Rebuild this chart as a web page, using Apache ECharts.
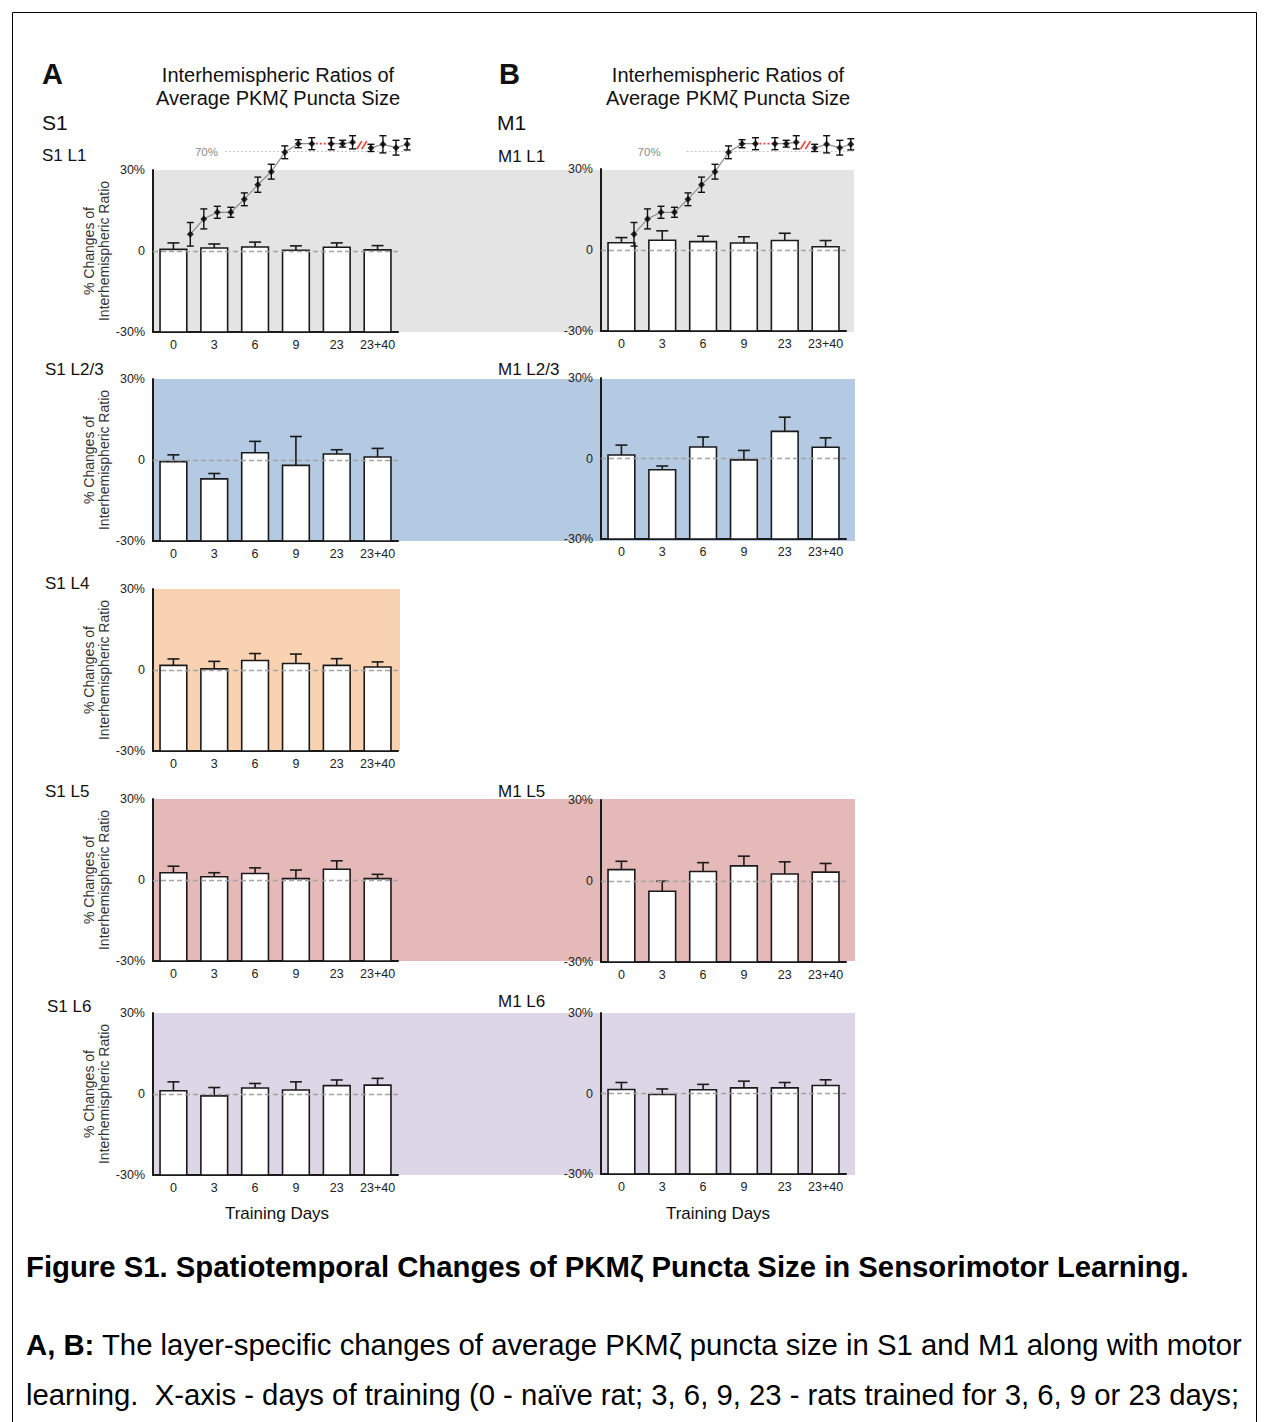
<!DOCTYPE html>
<html>
<head>
<meta charset="utf-8">
<title>PKMζ puncta size – interhemispheric ratios</title>
<script src="https://cdn.jsdelivr.net/npm/echarts@6/dist/echarts.min.js"></script>
<style>
  html, body { margin: 0; padding: 0; background: #fff; }
  #fig { width: 1269px; height: 1422px; }
</style>
</head>
<body>
<div id="fig"></div>
<script>
// ---- data -------------------------------------------------------------
const days = ['0', '3', '6', '9', '23', '23+40'];
const yTicks = [-30, 0, 30];

// mean % change of interhemispheric ratio and SEM, per cortical layer
const s1L1Mean  = [0.6, 1.1, 1.5, 0.3, 1.4, 0.4];
const s1L1Err   = [2.4, 1.5, 1.8, 1.6, 1.6, 1.6];
const s1L23Mean = [-0.6, -7.0, 2.7, -2.0, 2.2, 1.1];
const s1L23Err  = [2.5, 2.0, 4.2, 10.7, 1.6, 3.2];
const s1L4Mean  = [1.7, 0.4, 3.5, 2.4, 1.7, 1.1];
const s1L4Err   = [2.4, 2.8, 2.6, 3.5, 2.5, 1.9];
const s1L5Mean  = [2.7, 1.2, 2.4, 0.5, 4.0, 0.5];
const s1L5Err   = [2.4, 1.5, 2.1, 3.2, 3.1, 1.6];
const s1L6Mean  = [1.2, -0.7, 2.2, 1.5, 3.1, 3.3];
const s1L6Err   = [3.3, 3.1, 1.7, 3.0, 2.1, 2.5];

const m1L1Mean  = [2.7, 3.6, 3.1, 2.6, 3.5, 1.2];
const m1L1Err   = [1.9, 3.5, 2.0, 2.3, 2.7, 2.3];
const m1L23Mean = [1.3, -4.2, 4.3, -0.5, 10.1, 4.2];
const m1L23Err  = [3.7, 1.4, 3.7, 3.5, 5.3, 3.5];
const m1L5Mean  = [4.2, -3.8, 3.5, 5.6, 2.6, 3.3];
const m1L5Err   = [3.1, 3.7, 3.3, 3.6, 4.5, 3.2];
const m1L6Mean  = [1.5, -0.4, 1.4, 2.1, 2.1, 3.0];
const m1L6Err   = [2.6, 2.1, 2.0, 2.5, 2.0, 2.1];

// learning curve (success rate, %) shown above the L1 panels
const curveSession = [1, 2, 3, 4, 5, 6, 7, 8, 9, 10, 11.44, 12.28, 13.02, 14.38, 15.27, 16.24, 17.06];
const curveSuccess = [28.7, 36.4, 39.7, 39.7, 46.2, 53.5, 60.0, 69.7, 74.0, 74.0, 74.0, 74.0, 74.7, 71.9, 73.7, 72.0, 73.7];
const curveErr     = [5.9, 5.0, 3.0, 2.5, 3.2, 3.8, 3.7, 3.2, 2.0, 3.0, 3.0, 1.7, 3.3, 1.8, 4.3, 3.7, 2.8];
const curveSegment = [1, 1, 1, 1, 1, 1, 1, 1, 1, 1, 2, 2, 2, 3, 3, 3, 3];
const criterion = 70;

// ---- layout & style ---------------------------------------------------
const FONT = '"Liberation Sans", Arial, Helvetica, sans-serif';
const INK = '#1a1a1a';
const COL_LEFT = [153, 601];
const PLOT_W = 245;

const panels = [
  { label: 'S1 L1',   mean: s1L1Mean,  err: s1L1Err,  col: 0, top: 170, height: 162, lx: 42,  ly: 155, yName: true },
  { label: 'S1 L2/3', mean: s1L23Mean, err: s1L23Err, col: 0, top: 379, height: 162, lx: 45,  ly: 369, yName: true },
  { label: 'S1 L4',   mean: s1L4Mean,  err: s1L4Err,  col: 0, top: 589, height: 162, lx: 45,  ly: 583, yName: true },
  { label: 'S1 L5',   mean: s1L5Mean,  err: s1L5Err,  col: 0, top: 799, height: 162, lx: 45,  ly: 791, yName: true },
  { label: 'S1 L6',   mean: s1L6Mean,  err: s1L6Err,  col: 0, top: 1013, height: 162, lx: 47, ly: 1006, yName: true },
  { label: 'M1 L1',   mean: m1L1Mean,  err: m1L1Err,  col: 1, top: 169, height: 162, lx: 498, ly: 156, yName: false },
  { label: 'M1 L2/3', mean: m1L23Mean, err: m1L23Err, col: 1, top: 378, height: 161, lx: 498, ly: 369, yName: false },
  { label: 'M1 L5',   mean: m1L5Mean,  err: m1L5Err,  col: 1, top: 800, height: 162, lx: 498, ly: 791, yName: false },
  { label: 'M1 L6',   mean: m1L6Mean,  err: m1L6Err,  col: 1, top: 1013, height: 161, lx: 498, ly: 1001, yName: false }
];

// layer colour bands behind each row of panels
const bands = [
  { top: 170, height: 162, right: 854, color: '#e4e4e4' },
  { top: 379, height: 162, right: 855, color: '#b4c9e2' },
  { top: 589, height: 162, right: 400, color: '#f9d3b1' },
  { top: 799, height: 162, right: 855, color: '#e6b9b9' },
  { top: 1013, height: 162, right: 855, color: '#ddd6e7' }
];

const insets = [
  { left: 176.8, refStart: 3.57, refEnd: 17.29, labelGap: 7 },
  { left: 620.5, refStart: 4.9,  refEnd: 17.2,  labelGap: 26 }
];

// ---- renderers --------------------------------------------------------
function barItem(params, api) {
  const v = api.value(1), e = api.value(2);
  const top = api.coord([api.value(0), v]);
  const base = api.coord([api.value(0), yTicks[0]]);
  const tip = api.coord([api.value(0), v + e]);
  const w = api.size([1, 0])[0] * 0.655;
  const st = { stroke: INK, lineWidth: 1.6, fill: null };
  return {
    type: 'group',
    children: [
      { type: 'rect', shape: { x: top[0] - w / 2, y: top[1], width: w, height: base[1] - top[1] },
        style: { fill: '#ffffff', stroke: INK, lineWidth: 1.6 } },
      { type: 'line', shape: { x1: top[0], y1: top[1], x2: tip[0], y2: tip[1] }, style: st },
      { type: 'line', shape: { x1: tip[0] - 6, y1: tip[1], x2: tip[0] + 6, y2: tip[1] }, style: st }
    ]
  };
}

function curveErrItem(params, api) {
  const v = api.value(1), e = api.value(2);
  const lo = api.coord([api.value(0), v - e]);
  const hi = api.coord([api.value(0), v + e]);
  const st = { stroke: '#111', lineWidth: 1.4, fill: null };
  return {
    type: 'group',
    children: [
      { type: 'line', shape: { x1: lo[0], y1: lo[1], x2: hi[0], y2: hi[1] }, style: st },
      { type: 'line', shape: { x1: lo[0] - 3.5, y1: lo[1], x2: lo[0] + 3.5, y2: lo[1] }, style: st },
      { type: 'line', shape: { x1: hi[0] - 3.5, y1: hi[1], x2: hi[0] + 3.5, y2: hi[1] }, style: st }
    ]
  };
}

// axis-break mark "//" between training and retention sessions
function breakItem(params, api) {
  const c = api.coord([api.value(0), api.value(1)]);
  const st = { stroke: '#e8453c', lineWidth: 1.7, fill: null };
  return {
    type: 'group',
    children: [-2.5, 2.5].map(dx => ({
      type: 'line', shape: { x1: c[0] + dx - 2.5, y1: c[1] + 4, x2: c[0] + dx + 2.5, y2: c[1] - 4 }, style: st
    }))
  };
}

// ---- option -----------------------------------------------------------
const grid = [], xAxis = [], yAxis = [], series = [];

panels.forEach((p, k) => {
  grid.push({ left: COL_LEFT[p.col], top: p.top, width: PLOT_W, height: p.height });
  xAxis.push({
    gridIndex: k, type: 'category', data: days, boundaryGap: true,
    axisLine: { onZero: false, lineStyle: { color: INK, width: 2 } },
    axisTick: { show: false },
    axisLabel: { interval: 0, fontSize: 12.5, color: '#222', margin: 6, fontFamily: FONT }
  });
  yAxis.push({
    gridIndex: k, type: 'value', min: yTicks[0], max: yTicks[2], interval: yTicks[2],
    axisLine: { show: true, onZero: false, lineStyle: { color: INK, width: 2 } },
    axisTick: { show: false },
    splitLine: { show: false },
    axisLabel: { fontSize: 12.5, color: '#222', margin: 8, fontFamily: FONT,
      formatter: v => (v === 0 ? '0' : v + '%') },
    name: p.yName ? '% Changes of\nInterhemispheric Ratio' : '',
    nameLocation: 'middle', nameGap: 38, nameRotate: 90,
    nameTextStyle: { fontSize: 14, lineHeight: 15, color: '#333', fontFamily: FONT }
  });
  series.push({
    type: 'custom', xAxisIndex: k, yAxisIndex: k, z: 2, silent: true,
    data: p.mean.map((v, i) => [i, v, p.err[i]]),
    renderItem: barItem,
    markLine: {
      silent: true, symbol: 'none', label: { show: false },
      lineStyle: { color: '#a3a3a3', type: [5, 3], width: 1.3 },
      data: [{ yAxis: 0 }]
    }
  });
});

const curvePts = curveSession.map((s, i) => [s, curveSuccess[i], curveErr[i]]);

insets.forEach(ins => {
  const gi = grid.length;
  grid.push({ left: ins.left, top: 131.7, width: 18 * 13.5, height: 120 });
  xAxis.push({ gridIndex: gi, type: 'value', min: 0, max: 18, show: false });
  yAxis.push({ gridIndex: gi, type: 'value', min: 20, max: 80, show: false });

  [1, 2, 3].forEach((seg, si) => {
    const s = {
      type: 'line', xAxisIndex: gi, yAxisIndex: gi, z: 4, silent: true,
      data: curvePts.filter((d, i) => curveSegment[i] === seg).map(d => [d[0], d[1]]),
      symbol: 'none', lineStyle: { color: '#8f8f8f', width: 1.2 }
    };
    if (si === 0) {
      s.markLine = {
        silent: true, symbol: 'none',
        lineStyle: { color: '#c6c6c6', type: [2, 2], width: 1 },
        label: { show: true, position: 'start', distance: ins.labelGap, formatter: criterion + '%',
          color: '#8a8a8a', fontSize: 11.5, fontFamily: FONT },
        data: [[{ coord: [ins.refStart, criterion] }, { coord: [ins.refEnd, criterion] }]]
      };
    }
    series.push(s);
  });

  // dotted link across the unsampled stretch of training
  const lastA = curveSegment.lastIndexOf(1), firstB = curveSegment.indexOf(2);
  series.push({
    type: 'line', xAxisIndex: gi, yAxisIndex: gi, z: 4, silent: true, symbol: 'none',
    data: [[curveSession[lastA], curveSuccess[lastA]], [curveSession[firstB], curveSuccess[firstB]]],
    lineStyle: { color: '#e8453c', type: [2, 2], width: 1.8 }
  });

  // break between training and retention test
  const lastB = curveSegment.lastIndexOf(2), firstC = curveSegment.indexOf(3);
  series.push({
    type: 'custom', xAxisIndex: gi, yAxisIndex: gi, z: 5, silent: true,
    data: [[(curveSession[lastB] + curveSession[firstC]) / 2, (curveSuccess[lastB] + curveSuccess[firstC]) / 2]],
    renderItem: breakItem
  });

  series.push({
    type: 'custom', xAxisIndex: gi, yAxisIndex: gi, z: 5, silent: true,
    data: curvePts, renderItem: curveErrItem
  });
  series.push({
    type: 'scatter', xAxisIndex: gi, yAxisIndex: gi, z: 6, silent: true,
    data: curvePts.map(d => [d[0], d[1]]),
    symbol: 'diamond', symbolSize: 7, itemStyle: { color: '#000' }
  });
});

// ---- text & decorations ----------------------------------------------
function txt(text, x, y, size, opts) {
  opts = opts || {};
  return {
    type: 'text', x: x, y: y, z: 10, silent: true,
    style: {
      text: text, fill: opts.color || '#111',
      font: (opts.bold ? 'bold ' : '') + size + 'px ' + FONT,
      fontSize: size, fontWeight: opts.bold ? 'bold' : 'normal', fontFamily: FONT,
      align: opts.align || 'left', verticalAlign: 'middle',
      textAlign: opts.align || 'left', textVerticalAlign: 'middle',
      lineHeight: opts.lh, rich: opts.rich
    }
  };
}

const title = 'Interhemispheric Ratios of\nAverage PKMζ Puncta Size';
const CAP = 29.3;
const graphic = [
  { type: 'rect', z: 0, silent: true, shape: { x: 12.5, y: 12.5, width: 1244, height: 1440 },
    style: { fill: 'none', stroke: '#000', lineWidth: 1 } }
];
bands.forEach(b => graphic.push({
  type: 'rect', z: -1, silent: true,
  shape: { x: COL_LEFT[0] + 1, y: b.top, width: b.right - COL_LEFT[0] - 1, height: b.height },
  style: { fill: b.color }
}));
graphic.push(
  txt('A', 42, 74, 29, { bold: true }),
  txt('B', 499, 74, 29, { bold: true }),
  txt('S1', 42, 122, 21),
  txt('M1', 497, 122, 21),
  txt(title, 278, 86.5, 20, { align: 'center', lh: 23 }),
  txt(title, 728, 86.5, 20, { align: 'center', lh: 23 }),
  txt('Training Days', 277, 1213, 17, { align: 'center' }),
  txt('Training Days', 718, 1213, 17, { align: 'center' }),
  txt('Figure S1. Spatiotemporal Changes of PKMζ Puncta Size in Sensorimotor Learning.', 26, 1266, CAP, { bold: true, color: '#000' }),
  txt('{b|A, B:} The layer-specific changes of average PKMζ puncta size in S1 and M1 along with motor', 26, 1344, CAP,
      { color: '#000', rich: { b: { fontWeight: 'bold', fontSize: CAP, fontFamily: FONT, fill: '#000' } } }),
  txt('learning.  X-axis - days of training (0 - naïve rat; 3, 6, 9, 23 - rats trained for 3, 6, 9 or 23 days;', 26, 1394, CAP, { color: '#000' })
);
panels.forEach(p => graphic.push(txt(p.label, p.lx, p.ly, 17)));

const chart = echarts.init(document.getElementById('fig'), null, { renderer: 'svg', width: 1269, height: 1422 });
chart.setOption({
  animation: false,
  backgroundColor: '#ffffff',
  textStyle: { fontFamily: FONT },
  grid: grid,
  xAxis: xAxis,
  yAxis: yAxis,
  series: series,
  graphic: graphic
});
</script>
</body>
</html>
